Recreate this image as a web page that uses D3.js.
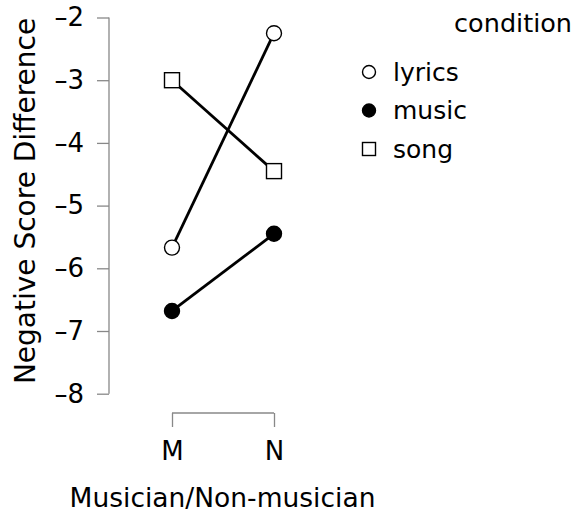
<!DOCTYPE html>
<html lang="en">
<head>
  <meta charset="UTF-8">
  <title>Negative Score Difference</title>
  <script src="https://d3js.org/d3.v7.min.js"></script>
  <style>
    body { margin: 0; background: #fff; }
    svg text { font-family: "DejaVu Sans", sans-serif; fill: #000; }
  </style>
</head>
<body>
<svg id="chart" width="576" height="527"></svg>
<script>
  // groups on the x axis
  const groups = ["M", "N"];
  const conditions = ["lyrics", "music", "song"];
  // mean values per condition, in group order
  const lyrics = [-5.67, -2.25];
  const music = [-6.68, -5.45];
  const song = [-3.0, -4.45];
  const yTicks = [-2, -3, -4, -5, -6, -7, -8];

  const series = [
    { name: conditions[0], values: lyrics, shape: "circle", fill: "#fff" },
    { name: conditions[1], values: music, shape: "circle", fill: "#000" },
    { name: conditions[2], values: song, shape: "square", fill: "#fff" }
  ];

  const svg = d3.select("#chart");

  const x = d3.scalePoint().domain(groups).range([172, 274]);
  const y = d3.scaleLinear().domain([-2, -8]).range([17.5, 393.7]);

  // y axis
  const yAxis = svg.append("g")
    .attr("transform", "translate(109,0)")
    .call(d3.axisLeft(y).tickValues(yTicks).tickSize(12).tickPadding(13)
      .tickFormat(d => d < 0 ? "\u2013" + Math.abs(d) : d));
  yAxis.select(".domain").attr("stroke", "#888").attr("stroke-width", 1.3)
    .attr("d", `M0,${y(-2)}V${y(-8)}`);
  yAxis.selectAll(".tick line").attr("stroke", "#888").attr("stroke-width", 1.3);
  yAxis.selectAll(".tick text").attr("font-size", 26).attr("font-family", "DejaVu Sans");

  // x axis bracket
  const xAxis = svg.append("g")
    .attr("transform", "translate(0,413)")
    .call(d3.axisBottom(x).tickSize(14).tickSizeOuter(0).tickPadding(15));
  xAxis.select(".domain").attr("stroke", "#888").attr("stroke-width", 1.3)
    .attr("d", `M${x("M")},0H${x("N")}`);
  xAxis.selectAll(".tick line").attr("stroke", "#888").attr("stroke-width", 1.3);
  xAxis.selectAll(".tick text").attr("font-size", 26).attr("font-family", "DejaVu Sans");

  // axis titles
  svg.append("text")
    .attr("x", 222.5).attr("y", 507)
    .attr("text-anchor", "middle")
    .attr("font-size", 26.5)
    .text("Musician/Non-musician");

  svg.append("text")
    .attr("transform", "translate(35,201) rotate(-90)")
    .attr("text-anchor", "middle")
    .attr("font-size", 28)
    .text("Negative Score Difference");

  // lines
  const line = d3.line().x((d, i) => x(groups[i])).y(d => y(d));
  svg.selectAll(".series-line")
    .data(series)
    .enter()
    .append("path")
    .attr("class", "series-line")
    .attr("d", d => line(d.values))
    .attr("fill", "none")
    .attr("stroke", "#000")
    .attr("stroke-width", 2.8);

  // markers
  function drawMarker(g, shape, fill, cx, cy, size) {
    if (shape === "circle") {
      g.append("circle").attr("cx", cx).attr("cy", cy).attr("r", size / 2)
        .attr("fill", fill).attr("stroke", "#000").attr("stroke-width", 1.4);
    } else {
      g.append("rect").attr("x", cx - size / 2).attr("y", cy - size / 2)
        .attr("width", size).attr("height", size)
        .attr("fill", fill).attr("stroke", "#000").attr("stroke-width", 1.4);
    }
  }

  const marks = svg.append("g");
  series.forEach(s => {
    s.values.forEach((v, i) => drawMarker(marks, s.shape, s.fill, x(groups[i]), y(v), 15));
  });

  // legend
  svg.append("text")
    .attr("x", 572).attr("y", 32)
    .attr("text-anchor", "end")
    .attr("font-size", 25.5)
    .text("condition");

  const legend = svg.append("g");
  series.forEach((s, i) => {
    const ly = 72 + i * 38.5;
    drawMarker(legend, s.shape, s.fill, 369, ly, 13);
    legend.append("text")
      .attr("x", 393).attr("y", ly)
      .attr("dy", "0.35em")
      .attr("font-size", 25)
      .text(s.name);
  });
</script>
</body>
</html>
